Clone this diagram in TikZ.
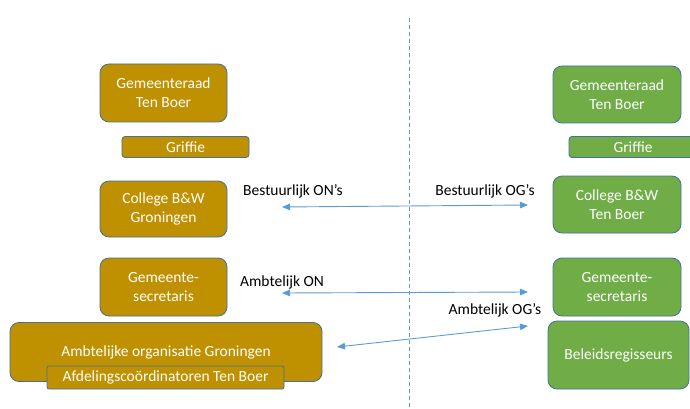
\documentclass[tikz,border=0pt]{standalone}
\usepackage{fontspec}
\setmainfont{Carlito}
\usetikzlibrary{arrows.meta}
\definecolor{goud}{HTML}{BF9000}
\definecolor{groen}{HTML}{70AD47}
\definecolor{rand}{HTML}{41719C}
\definecolor{pijl}{HTML}{5B9BD5}

\begin{document}
\begin{tikzpicture}[x=1pt,y=-1pt,
    box/.style={draw=rand,line width=0.8pt,rounded corners=9pt,
      minimum width=127pt,minimum height=58pt,inner sep=0pt,
      align=center,text=white,font=\fontsize{15.5}{19}\selectfont},
    strip/.style={box,rounded corners=3pt,minimum height=21pt},
    ON/.style={box,fill=goud},
    OG/.style={box,fill=groen},
    lbl/.style={font=\fontsize{15.5}{19}\selectfont,text=black,inner sep=0pt},
    link/.style={draw=pijl,line width=0.9pt,
      {Triangle[length=8pt,width=6.5pt]}-{Triangle[length=8pt,width=6.5pt]}}]
    \useasboundingbox (0,0) rectangle (690,409);

    % gemeente Groningen
    \node[ON] (raadL) at (163.5,93) {Gemeenteraad\\Ten Boer};
    \node[ON,strip] (griffieL) at (185.5,147) {Griffie};
    \node[ON,minimum height=56pt] (collegeL) at (163.5,209) {College B\&W\\Groningen};
    \node[ON] (secrL) at (163.5,287) {Gemeente-\\secretaris};
    \node[ON,minimum width=312pt,minimum height=59pt] (ambtL) at (166,352) {Ambtelijke organisatie Groningen};
    \node[ON,strip,rounded corners=2pt,minimum width=237pt,minimum height=23pt] (afdL) at (165.5,377.5) {Afdelingsco\"ordinatoren Ten Boer};

    % gemeente Ten Boer
    \node[OG,minimum width=128pt,minimum height=57pt] (raadR) at (617,94.5) {Gemeenteraad\\Ten Boer};
    \node[OG,strip,minimum width=128pt] (griffieR) at (633,147) {Griffie};
    \node[OG,minimum width=128pt,minimum height=57pt] (collegeR) at (617,204.5) {College B\&W\\Ten Boer};
    \node[OG,minimum width=128pt] (secrR) at (617,287) {Gemeente-\\secretaris};
    \node[OG,minimum width=141pt,minimum height=68pt] (beleidR) at (618.5,355) {Beleidsregisseurs};

    % scheiding
    \coordinate (top) at (409,18);
    \coordinate (bot) at (409,409);
    \draw[pijl,line width=0.8pt,dash pattern=on 4pt off 3pt] (top) -- (bot);

    % lijnen
    \coordinate (b1) at (282,207);
    \coordinate (b2) at (528,205);
    \coordinate (a1) at (282,293);
    \coordinate (a2) at (528,292);
    \coordinate (o1) at (337,347);
    \coordinate (o2) at (528,326);
    \path[link] (b1) -- (b2);
    \path[link] (a1) -- (a2);
    \path[link] (o1) -- (o2);

    \node[lbl] (bON) at (293,191) {Bestuurlijk ON’s};
    \node[lbl] (bOG) at (485,191) {Bestuurlijk OG’s};
    \node[lbl] (aON) at (282,282) {Ambtelijk ON};
    \node[lbl] (aOG) at (495,310) {Ambtelijk OG’s};
\end{tikzpicture}
\end{document}
